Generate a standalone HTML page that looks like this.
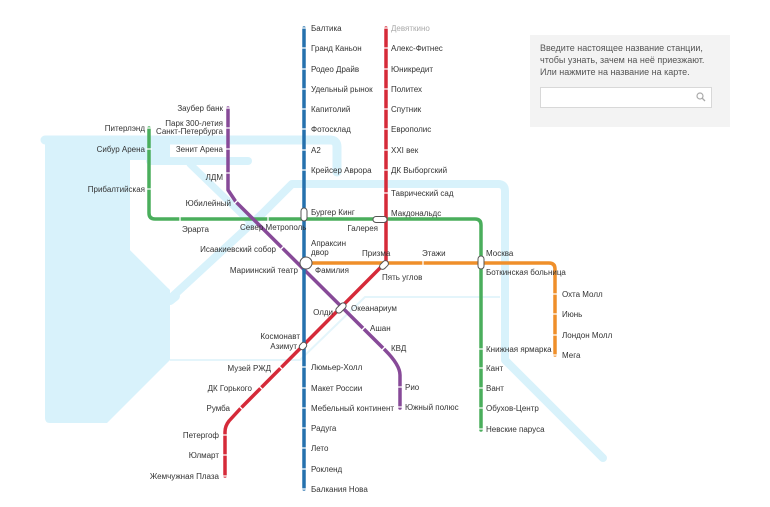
<!DOCTYPE html>
<html><head><meta charset="utf-8"><style>
html,body{margin:0;padding:0;background:#fff;}
svg{display:block;}
text{font-family:"Liberation Sans",sans-serif;font-size:8px;fill:#333;}
.r{text-anchor:end;}
</style></head><body>
<svg width="770" height="507" viewBox="0 0 770 507" xmlns="http://www.w3.org/2000/svg">
<!-- water -->
<g fill="#d8f2fb" stroke="none">
<path d="M45,136 H170 V160 H45 Z"/>
<path d="M45,136 H130 V250 L170,290 V360 L107,423 H50 Q45,423 45,418 Z"/>
<path d="M130,167 L130,250 L168,288 L173,283 L173,167 Z" fill="#fff"/>
</g>
<g fill="none" stroke="#d8f2fb" stroke-linecap="round" stroke-linejoin="round">
<path d="M45,140 H330 Q337,140 337,147 V172" stroke-width="9"/>
<path d="M150,161 H248" stroke-width="8"/>
<path d="M173,296 L262,214 L292,184 H498 Q505,184 505,191 V360 L603,458" stroke-width="8"/>
<path d="M190,164 L250,222" stroke-width="7"/>
<path d="M170,300 L175,296" stroke-width="10"/>
</g>
<g fill="none" stroke="#e4f5fb" stroke-width="2">
<path d="M170,360 H300 L365,297 H500"/>
</g>
<!-- lines -->
<g fill="none" stroke-width="3.5" stroke-linejoin="round" stroke-linecap="round">
<path d="M149,128 V213 Q149,219 155,219 H475 Q481,219 481,225 V430" stroke="#4aae5c"/>
<path d="M304,263 H549 Q555,263 555,269 V355" stroke="#ef8f2a"/>
<path d="M228,108 V190 L236,202 L385,350 Q400,365 400,375 V408" stroke="#874a98"/>
<path d="M386,28 V262 L240,409 L229,421 Q225,426 225,432 V476" stroke="#d52a39"/>
<path d="M304,28 V489" stroke="#2571ad"/>
</g>
<!-- ticks -->
<g stroke="#fff" stroke-width="1.3">
<path d="M301,28h6M301,48h6M301,69h6M301,89h6M301,109h6M301,129h6M301,150h6M301,170h6M301,367h6M301,388h6M301,408h6M301,428h6M301,448h6M301,469h6M301,489h6"/>
<path d="M383,28h6M383,48h6M383,69h6M383,89h6M383,109h6M383,129h6M383,150h6M383,170h6M383,193h6"/>
<path d="M222,435h6M222,455h6M222,476h6"/>
<path d="M146,128h6M146,149h6M146,189h6M478,349h6M478,368h6M478,388h6M478,408h6M478,429h6"/>
<path d="M552,294h6M552,314h6M552,335h6M552,355h6"/>
<path d="M225,108h6M225,128h6M225,149h6M225,173h6M397,387h6M397,407h6"/>
<path d="M180,216v6M268,216v6M423,260v6"/>
<path d="M279,366l4,4M259,386l4,4M239,406l4,4"/>
<path d="M234,204l4,-4M280,250l4,-4M362,330l4,-4M382,350l4,-4"/>
</g>
<!-- transfers -->
<g fill="#fff" stroke="#555" stroke-width="1">
<rect x="301" y="208" width="6" height="13" rx="3"/>
<rect x="373" y="216.5" width="14" height="6" rx="3"/>
<rect x="478" y="256" width="6" height="13" rx="3"/>
<circle cx="306" cy="263" r="6"/>
<rect x="379" y="262" width="10" height="6" rx="3" transform="rotate(-45 384 265)"/>
<rect x="335" y="305" width="12" height="6" rx="3" transform="rotate(-45 341 308)"/>
<rect x="299" y="343" width="8" height="6" rx="3" transform="rotate(-45 303 346)"/>
</g>
<!-- labels blue -->
<text x="311" y="31">Балтика</text>
<text x="311" y="51">Гранд Каньон</text>
<text x="311" y="72">Родео Драйв</text>
<text x="311" y="92">Удельный рынок</text>
<text x="311" y="112">Капитолий</text>
<text x="311" y="132">Фотосклад</text>
<text x="311" y="153">А2</text>
<text x="311" y="173">Крейсер Аврора</text>
<text x="311" y="215">Бургер Кинг</text>
<text x="311" y="246">Апраксин</text>
<text x="311" y="255">двор</text>
<text x="315" y="273">Фамилия</text>
<text class="r" x="300" y="339">Космонавт</text>
<text class="r" x="297" y="349">Азимут</text>
<text x="311" y="370">Люмьер-Холл</text>
<text x="311" y="391">Макет России</text>
<text x="311" y="411">Мебельный континент</text>
<text x="311" y="431">Радуга</text>
<text x="311" y="451">Лето</text>
<text x="311" y="472">Рокленд</text>
<text x="311" y="492">Балкания Нова</text>
<!-- red -->
<text x="391" y="31" style="fill:#aaa">Девяткино</text>
<text x="391" y="51">Алекс-Фитнес</text>
<text x="391" y="72">Юникредит</text>
<text x="391" y="92">Политех</text>
<text x="391" y="112">Спутник</text>
<text x="391" y="132">Европолис</text>
<text x="391" y="153">XXI век</text>
<text x="391" y="173">ДК Выборгский</text>
<text x="391" y="196">Таврический сад</text>
<text x="391" y="216">Макдональдс</text>
<text class="r" x="378" y="231">Галерея</text>
<text x="362" y="256">Призма</text>
<text x="382" y="280">Пять углов</text>
<text class="r" x="333" y="315">Олди</text>
<text x="351" y="311">Океанариум</text>
<text class="r" x="271" y="371">Музей РЖД</text>
<text class="r" x="252" y="391">ДК Горького</text>
<text class="r" x="230" y="411">Румба</text>
<text class="r" x="219" y="438">Петергоф</text>
<text class="r" x="219" y="458">Юлмарт</text>
<text class="r" x="219" y="479">Жемчужная Плаза</text>
<!-- green -->
<text class="r" x="145" y="131">Питерлэнд</text>
<text class="r" x="145" y="152">Сибур Арена</text>
<text class="r" x="145" y="192">Прибалтийская</text>
<text x="182" y="232">Эрарта</text>
<text x="240" y="230">Север Метрополь</text>
<text x="486" y="256">Москва</text>
<text x="486" y="275">Боткинская больница</text>
<text x="486" y="352">Книжная ярмарка</text>
<text x="486" y="371">Кант</text>
<text x="486" y="391">Вант</text>
<text x="486" y="411">Обухов-Центр</text>
<text x="486" y="432">Невские паруса</text>
<!-- orange -->
<text x="422" y="256">Этажи</text>
<text x="562" y="297">Охта Молл</text>
<text x="562" y="317">Июнь</text>
<text x="562" y="338">Лондон Молл</text>
<text x="562" y="358">Мега</text>
<!-- purple -->
<text class="r" x="223" y="111">Заубер банк</text>
<text class="r" x="223" y="126">Парк 300-летия</text>
<text class="r" x="223" y="134">Санкт-Петербурга</text>
<text class="r" x="223" y="152">Зенит Арена</text>
<text class="r" x="223" y="180">ЛДМ</text>
<text class="r" x="231" y="206">Юбилейный</text>
<text class="r" x="276" y="252">Исаакиевский собор</text>
<text class="r" x="298" y="273">Мариинский театр</text>
<text x="370" y="331">Ашан</text>
<text x="391" y="351">КВД</text>
<text x="405" y="390">Рио</text>
<text x="405" y="410">Южный полюс</text>
<!-- panel -->
<rect x="530" y="35" width="200" height="92" fill="#f3f3f3"/>
<text x="540" y="51" style="font-size:9px;fill:#555">Введите настоящее название станции,</text>
<text x="540" y="63" style="font-size:9px;fill:#555">чтобы узнать, зачем на неё приезжают.</text>
<text x="540" y="75" style="font-size:9px;fill:#555">Или нажмите на название на карте.</text>
<rect x="540.5" y="87.5" width="171" height="20" fill="#fff" stroke="#d8d8d8"/>
<circle cx="700" cy="96" r="3" fill="none" stroke="#aaa" stroke-width="1.2"/>
<path d="M702,98 l3,3" stroke="#aaa" stroke-width="1.3"/>
</svg>
</body></html>
